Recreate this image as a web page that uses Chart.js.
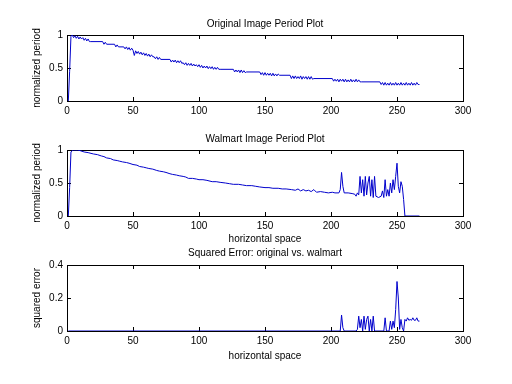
<!DOCTYPE html>
<html>
<head>
<meta charset="utf-8">
<script src="https://cdn.jsdelivr.net/npm/chart.js@4"></script>
<style>
  body { margin: 0; background: #fff; width: 512px; height: 384px; overflow: hidden; position: relative; }
  canvas { position: absolute; left: 0; }
</style>
</head>
<body>
<canvas id="c1" width="512" height="116" style="top:0px"></canvas>
<canvas id="c2" width="512" height="130" style="top:116px"></canvas>
<canvas id="c3" width="512" height="138" style="top:246px"></canvas>
<script>
// Original image period
const origX = [1,2,3,4,5,6,7,8,9,10,11,12,13,14,15,16,17,18,
  27,28,29,30,36,37,38,39,43,44,45,46,47,48,49,50,
  51,52,53,54,55,56,57,58,59,60,61,62,63,64,65,
  66,67,68,69,70,71,78,79,80,81,82,83,84,85,86,87,88,
  89,90,91,92,93,94,95,96,97,98,99,100,
  101,102,103,104,105,106,107,108,109,110,111,112,113,114,115,116,
  126,127,128,129,130,131,132,133,134,135,136,146,
  147,148,149,150,151,152,153,154,155,156,157,158,159,160,161,169,
  170,171,172,173,174,175,176,177,178,179,180,181,182,183,184,185,186,187,201,
  202,203,204,205,206,207,208,209,210,211,212,213,214,215,216,217,218,219,220,221,222,223,237,
  238,239,240,241,242,243,244,245,246,247,248,249,250,251,252,253,254,255,256,257,258,259,260,261,262,263,264,265,266,267];
const origY = [0,0.45,0.98,1.0,0.96,0.99,0.95,0.98,0.94,0.97,0.94,0.96,0.92,0.95,0.91,0.94,0.9,0.9,
  0.9,0.86,0.89,0.86,0.86,0.82,0.85,0.82,0.82,0.79,0.82,0.78,0.81,0.77,0.8,0.77,
  0.69,0.76,0.72,0.75,0.71,0.74,0.7,0.73,0.69,0.72,0.68,0.71,0.67,0.7,0.67,
  0.67,0.64,0.67,0.63,0.66,0.63,0.63,0.59,0.62,0.59,0.62,0.58,0.61,0.58,0.61,0.57,0.58,
  0.55,0.58,0.54,0.57,0.54,0.57,0.53,0.56,0.53,0.55,0.52,0.55,
  0.51,0.54,0.5,0.53,0.5,0.53,0.49,0.52,0.49,0.52,0.48,0.51,0.48,0.51,0.48,0.48,
  0.48,0.44,0.47,0.44,0.47,0.43,0.47,0.43,0.46,0.43,0.44,0.44,
  0.4,0.43,0.39,0.43,0.39,0.42,0.39,0.42,0.38,0.42,0.38,0.41,0.38,0.41,0.39,0.39,
  0.34,0.38,0.34,0.38,0.34,0.37,0.34,0.38,0.33,0.37,0.34,0.37,0.33,0.37,0.33,0.37,0.33,0.34,0.34,
  0.3,0.33,0.3,0.33,0.29,0.33,0.3,0.33,0.29,0.33,0.29,0.32,0.29,0.33,0.29,0.32,0.29,0.33,0.29,0.32,0.29,0.29,0.29,
  0.25,0.28,0.24,0.28,0.24,0.27,0.24,0.28,0.24,0.27,0.24,0.28,0.24,0.27,0.24,0.28,0.24,0.27,0.24,0.28,0.24,0.27,0.24,0.28,0.24,0.27,0.24,0.28,0.25,0.25];

// Walmart image period (middle plot)
const walX = [1,2,3,4,5,8,10,13,16,20,23,26,28,30,33,35,38,40,42,45,47,50,53,55,58,60,62,65,68,70,
  73,75,78,80,83,85,88,90,92,95,98,100,103,106,110,113,116,120,123,126,130,133,136,140,143,146,150,
  153,156,160,163,166,170,173,175,177,179,181,183,185,187,189,192,195,198,201,203,206,207,208,209,210,
  213,216,218,219,220,221,222,223,224,225,226,227,228,229,230,231,232,233,234,236,238,239,240,241,242,
  243,244,245,246,247,248,249,250,251,252,253,254,255,256,267];
const walY = [0,0.43,0.97,0.99,1.0,1.0,0.99,0.97,0.96,0.94,0.93,0.91,0.9,0.88,0.87,0.85,0.84,0.83,0.82,0.81,0.8,0.78,0.77,0.75,0.74,0.73,0.72,0.71,0.69,0.68,
  0.67,0.66,0.64,0.63,0.62,0.61,0.6,0.59,0.57,0.57,0.56,0.55,0.55,0.54,0.52,0.52,0.51,0.5,0.49,0.48,0.48,0.47,0.46,0.46,0.45,0.44,0.43,
  0.43,0.42,0.42,0.41,0.41,0.4,0.39,0.41,0.38,0.4,0.38,0.39,0.37,0.4,0.36,0.37,0.36,0.35,0.36,0.35,0.35,0.4,0.66,0.45,0.35,
  0.35,0.34,0.33,0.3,0.35,0.32,0.6,0.35,0.55,0.3,0.6,0.32,0.5,0.6,0.3,0.55,0.28,0.6,0.3,0.28,0.3,0.38,0.28,0.55,0.3,
  0.4,0.3,0.5,0.35,0.55,0.4,0.6,0.8,0.45,0.35,0.52,0.45,0.25,0,0];

// Squared error (bottom plot)
const errX = [1,207,208,209,210,219,220,221,222,223,224,225,226,227,228,229,230,231,232,233,240,241,242,244,245,246,
  247,248,249,250,251,252,253,254,255,256,257,258,259,260,261,262,263,264,265,266,267];
const errY = [0,0,0.097,0.02,0,0,0.01,0.09,0.02,0.07,0,0.09,0.01,0.07,0.09,0,0.07,0,0.09,0,0,0.08,0,0,0.06,0.01,
  0.06,0.02,0.13,0.3,0.2,0.01,0.07,0.02,0,0.07,0.06,0.08,0.065,0.07,0.065,0.08,0.065,0.065,0.08,0.06,0.06];

const xTicks = { min: 0, max: 300, step: 50 };

const FONT = { family: "'Liberation Sans', Arial, Helvetica, sans-serif", size: 10 };
const LINE = '#0000cc';

function toPoints(xs, ys) {
  return xs.map((x, i) => ({ x: x, y: ys[i] }));
}

// MATLAB-like subplot: boxed axes with inward ticks on all four sides
function subplot(id, xs, ys, cfg) {
  const inward = { color: '#000', drawOnChartArea: false, drawTicks: true, tickLength: -4 };
  const border = { color: '#000', width: 1 };
  return new Chart(document.getElementById(id), {
    type: 'line',
    data: {
      datasets: [{
        data: toPoints(xs, ys),
        borderColor: LINE,
        borderWidth: 1,
        pointRadius: 0,
        tension: 0,
        fill: false
      }]
    },
    options: {
      responsive: false,
      animation: false,
      layout: { padding: { left: 0, right: 49, top: 0, bottom: 0 } },
      plugins: {
        legend: { display: false },
        tooltip: { enabled: false },
        title: {
          display: true,
          fullSize: false,
          text: cfg.title,
          color: '#000',
          font: { family: FONT.family, size: 10, weight: 'normal', lineHeight: 1.2 },
          padding: { top: cfg.titleTop, bottom: cfg.titleBottom }
        }
      },
      scales: {
        x: {
          type: 'linear', position: 'bottom',
          min: xTicks.min, max: xTicks.max,
          ticks: { stepSize: xTicks.step, color: '#000', font: FONT, padding: 8, maxRotation: 0 },
          grid: inward, border: border,
          title: {
            display: !!cfg.xTitle, text: cfg.xTitle, color: '#000', font: FONT,
            padding: { top: 0, bottom: cfg.xTitlePad }
          },
          afterFit: s => { s.height = cfg.xHeight; }
        },
        y: {
          type: 'linear', position: 'left',
          min: 0, max: cfg.yMax,
          ticks: { stepSize: cfg.yStep, color: '#000', font: FONT, padding: 8,
                   callback: v => String(v) },
          grid: inward, border: border,
          title: { display: true, text: cfg.yTitle, color: '#000', font: FONT, padding: { top: 31, bottom: 0 } },
          afterFit: s => { s.width = 67; }
        },
        x2: {
          type: 'linear', position: 'top',
          min: xTicks.min, max: xTicks.max,
          ticks: { display: false, stepSize: xTicks.step },
          grid: inward, border: border,
          afterFit: s => { s.height = 0; }
        },
        y2: {
          type: 'linear', position: 'right',
          min: 0, max: cfg.yMax,
          ticks: { display: false, stepSize: cfg.yStep },
          grid: inward, border: border,
          afterFit: s => { s.width = 0; }
        }
      }
    }
  });
}

subplot('c1', origX, origY, {
  title: 'Original Image Period Plot', titleTop: 18, titleBottom: 5,
  yTitle: 'normalized period', yMax: 1, yStep: 0.5,
  xTitle: '', xTitlePad: 0, xHeight: 15
});

subplot('c2', walX, walY, {
  title: 'Walmart Image Period Plot', titleTop: 17, titleBottom: 5,
  yTitle: 'normalized period', yMax: 1, yStep: 0.5,
  xTitle: 'horizontal space', xTitlePad: 1, xHeight: 30
});

subplot('c3', errX, errY, {
  title: 'Squared Error: original vs. walmart', titleTop: 1, titleBottom: 6,
  yTitle: 'squared error', yMax: 0.4, yStep: 0.2,
  xTitle: 'horizontal space', xTitlePad: 22, xHeight: 53
});
</script>
</body>
</html>
